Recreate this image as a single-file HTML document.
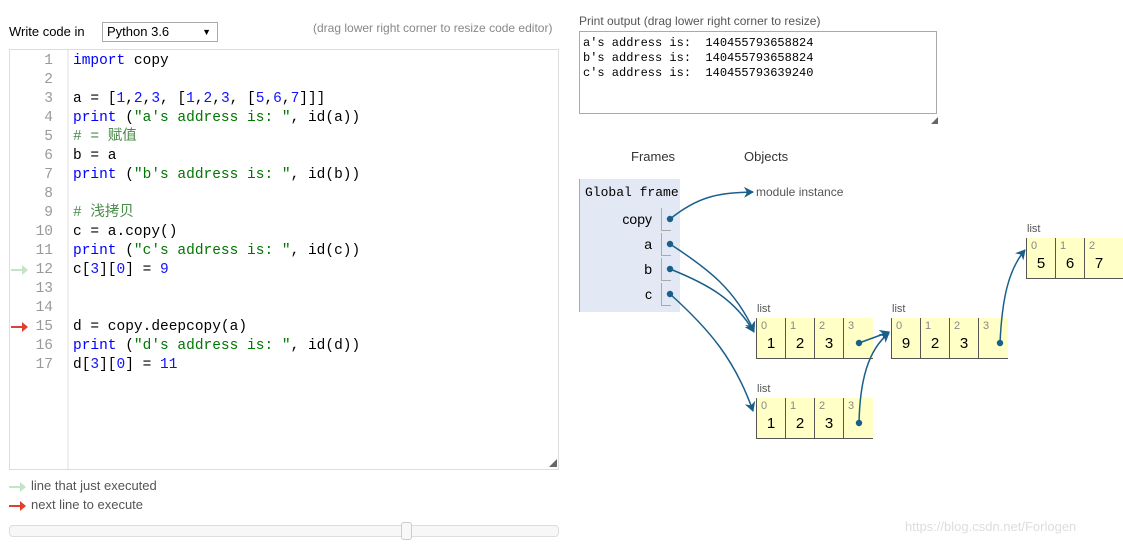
<!DOCTYPE html>
<html><head><meta charset="utf-8"><style>
body{margin:0;width:1123px;height:546px;background:#fff;position:relative;overflow:hidden;font-family:"Liberation Sans","Noto Sans CJK SC",sans-serif;}
.a{position:absolute;white-space:pre;}
.code{font-family:"Liberation Mono","Noto Sans CJK SC",monospace;font-size:14.5px;}
.ln{font-family:"Liberation Mono",monospace;font-size:14.5px;color:#999;text-align:right;width:30px;}
.k{color:#00f}.s{color:#070}.c{color:#4a8a4a}.n{color:#11f}
.out{font-family:"Liberation Mono",monospace;font-size:12px;color:#000;}
.lst{position:absolute;background:#ffffc6;border-bottom:1px solid #555;border-left:1px solid #555;height:40px;}
.cell{position:absolute;top:0;height:40px;border-right:1px solid #555;}
.cell .i{position:absolute;left:4px;top:2px;font-size:11px;color:#888;}
.cell .v{position:absolute;left:0;right:0;top:17px;text-align:center;font-size:15px;color:#000;}
.ll{position:absolute;font-size:11px;color:#555;}
</style></head><body>
<div class="a" style="left:9px;top:24px;font-size:13px;color:#000">Write code in</div>
<div class="a" style="left:102px;top:22px;border:1px solid #aaa;font-size:13px;line-height:18px;padding-left:4px;box-sizing:border-box;width:116px;height:20px">Python 3.6<span style="position:absolute;right:6px;font-size:9px">▼</span></div>
<div class="a" style="left:313px;top:21px;font-size:12px;color:#888">(drag lower right corner to resize code editor)</div>
<div class="a" style="left:9px;top:49px;width:550px;height:421px;border:1px solid #ddd;box-sizing:border-box"></div>
<div class="a" style="left:67px;top:50px;width:2px;height:419px;background:#eee"></div>
<div class="a" style="left:549px;top:458px;font-size:8px;color:#666">◢</div>

<div class="a ln" style="left:23px;top:52px;line-height:19px">1
2
3
4
5
6
7
8
9
10
11
12
13
14
15
16
17</div>
<div class="a code" style="left:73px;top:52px;line-height:19px"><span class="k">import</span> copy

a = [<span class="n">1</span>,<span class="n">2</span>,<span class="n">3</span>, [<span class="n">1</span>,<span class="n">2</span>,<span class="n">3</span>, [<span class="n">5</span>,<span class="n">6</span>,<span class="n">7</span>]]]
<span class="k">print</span> (<span class="s">"a's address is: "</span>, id(a))
<span class="c"># = 赋值</span>
b = a
<span class="k">print</span> (<span class="s">"b's address is: "</span>, id(b))

<span class="c"># 浅拷贝</span>
c = a.copy()
<span class="k">print</span> (<span class="s">"c's address is: "</span>, id(c))
c[<span class="n">3</span>][<span class="n">0</span>] = <span class="n">9</span>


d = copy.deepcopy(a)
<span class="k">print</span> (<span class="s">"d's address is: "</span>, id(d))
d[<span class="n">3</span>][<span class="n">0</span>] = <span class="n">11</span></div>
<svg class="a" style="left:0;top:0" width="1123" height="546">
<path d="M11 269h11v-4l6 5-6 5v-4h-11z" fill="#c5e4c5"/>
<path d="M11 326h11v-4l6 5-6 5v-4h-11z" fill="#e04030"/>
<path d="M9 486h11v-4l6 5-6 5v-4h-11z" fill="#c5e4c5"/>
<path d="M9 505h11v-4l6 5-6 5v-4h-11z" fill="#e04030"/>
</svg>
<div class="a" style="left:31px;top:478px;font-size:13px;color:#555">line that just executed</div>
<div class="a" style="left:31px;top:497px;font-size:13px;color:#555">next line to execute</div>
<div class="a" style="left:9px;top:525px;width:550px;height:12px;border:1px solid #ddd;border-radius:4px;background:#f7f7f7;box-sizing:border-box"></div>
<div class="a" style="left:401px;top:522px;width:11px;height:18px;border:1px solid #ccc;border-radius:3px;background:#f8f8f8;box-sizing:border-box"></div>

<div class="a" style="left:579px;top:14px;font-size:12px;color:#555">Print output (drag lower right corner to resize)</div>
<div class="a" style="left:579px;top:31px;width:358px;height:83px;border:1px solid #aaa;box-sizing:border-box"></div>
<div class="a out" style="left:583px;top:36px;line-height:15px">a's address is:  140455793658824
b's address is:  140455793658824
c's address is:  140455793639240</div>
<div class="a" style="left:931px;top:116px;font-size:7px;color:#666">◢</div>

<div class="a" style="left:631px;top:149px;font-size:13px;color:#333">Frames</div>
<div class="a" style="left:744px;top:149px;font-size:13px;color:#333">Objects</div>
<div class="a" style="left:579px;top:179px;width:101px;height:133px;background:#e2e9f5;border-left:1px solid #aaa;box-sizing:border-box"></div>
<div class="a" style="left:585px;top:185px;font-family:'Liberation Mono',monospace;font-size:13px;color:#000">Global frame</div>
<div class="a" style="left:600px;top:211px;width:52px;text-align:right;font-size:14px">copy</div>
<div class="a" style="left:600px;top:236px;width:52px;text-align:right;font-size:14px">a</div>
<div class="a" style="left:600px;top:261px;width:52px;text-align:right;font-size:14px">b</div>
<div class="a" style="left:600px;top:286px;width:52px;text-align:right;font-size:14px">c</div>
<div class="a" style="left:661px;top:208px;width:9px;height:22px;border-left:1px solid #aaa;border-bottom:1px solid #aaa"></div>
<div class="a" style="left:661px;top:233px;width:9px;height:22px;border-left:1px solid #aaa;border-bottom:1px solid #aaa"></div>
<div class="a" style="left:661px;top:258px;width:9px;height:22px;border-left:1px solid #aaa;border-bottom:1px solid #aaa"></div>
<div class="a" style="left:661px;top:283px;width:9px;height:22px;border-left:1px solid #aaa;border-bottom:1px solid #aaa"></div>
<div class="a" style="left:756px;top:185px;font-size:12px;color:#555">module instance</div>

<div class="ll" style="left:757px;top:303px">list</div>
<div class="lst" style="left:756px;top:318px;width:116px">
<div class="cell" style="left:0;width:28px"><span class="i">0</span><span class="v">1</span></div>
<div class="cell" style="left:29px;width:28px"><span class="i">1</span><span class="v">2</span></div>
<div class="cell" style="left:58px;width:28px"><span class="i">2</span><span class="v">3</span></div>
<div class="cell" style="left:87px;width:28px;border-right:none"><span class="i">3</span></div></div>
<div class="ll" style="left:757px;top:383px">list</div>
<div class="lst" style="left:756px;top:398px;width:116px">
<div class="cell" style="left:0;width:28px"><span class="i">0</span><span class="v">1</span></div>
<div class="cell" style="left:29px;width:28px"><span class="i">1</span><span class="v">2</span></div>
<div class="cell" style="left:58px;width:28px"><span class="i">2</span><span class="v">3</span></div>
<div class="cell" style="left:87px;width:28px;border-right:none"><span class="i">3</span></div></div>
<div class="ll" style="left:892px;top:303px">list</div>
<div class="lst" style="left:891px;top:318px;width:116px">
<div class="cell" style="left:0;width:28px"><span class="i">0</span><span class="v">9</span></div>
<div class="cell" style="left:29px;width:28px"><span class="i">1</span><span class="v">2</span></div>
<div class="cell" style="left:58px;width:28px"><span class="i">2</span><span class="v">3</span></div>
<div class="cell" style="left:87px;width:28px;border-right:none"><span class="i">3</span></div></div>
<div class="ll" style="left:1027px;top:223px">list</div>
<div class="lst" style="left:1026px;top:238px;width:97px">
<div class="cell" style="left:0;width:28px"><span class="i">0</span><span class="v">5</span></div>
<div class="cell" style="left:29px;width:28px"><span class="i">1</span><span class="v">6</span></div>
<div class="cell" style="left:58px;width:38px;border-right:none"><span class="i">2</span><span class="v" style="right:10px">7</span></div></div>

<svg class="a" style="left:0;top:0" width="1123" height="546">
<defs><marker id="m" markerWidth="11" markerHeight="11" refX="9" refY="5.5" orient="auto" markerUnits="userSpaceOnUse"><path d="M0 0L10 5.5L0 11L3 5.5z" fill="#1a5f8a"/></marker></defs>
<g fill="none" stroke="#1a5f8a" stroke-width="1.5" marker-end="url(#m)">
<path d="M670 219C700 195 720 193 753 192"/>
<path d="M670 244C710 270 735 290 754 331"/>
<path d="M670 269C710 285 735 300 754 332"/>
<path d="M670 294C710 330 735 360 753 411"/>
<path d="M859 343L889 332"/>
<path d="M859 423C860 380 868 350 889 333"/>
<path d="M1000 343C1002 300 1008 270 1025 250"/>
</g>
<g fill="#1a5f8a"><circle cx="670" cy="219" r="3.2"/><circle cx="670" cy="244" r="3.2"/><circle cx="670" cy="269" r="3.2"/><circle cx="670" cy="294" r="3.2"/><circle cx="859" cy="343" r="3.2"/><circle cx="859" cy="423" r="3.2"/><circle cx="1000" cy="343" r="3.2"/></g>
</svg>
<div class="a" style="left:905px;top:519px;font-size:13px;color:#ddd">https://blog.csdn.net/Forlogen</div>
</body></html>
